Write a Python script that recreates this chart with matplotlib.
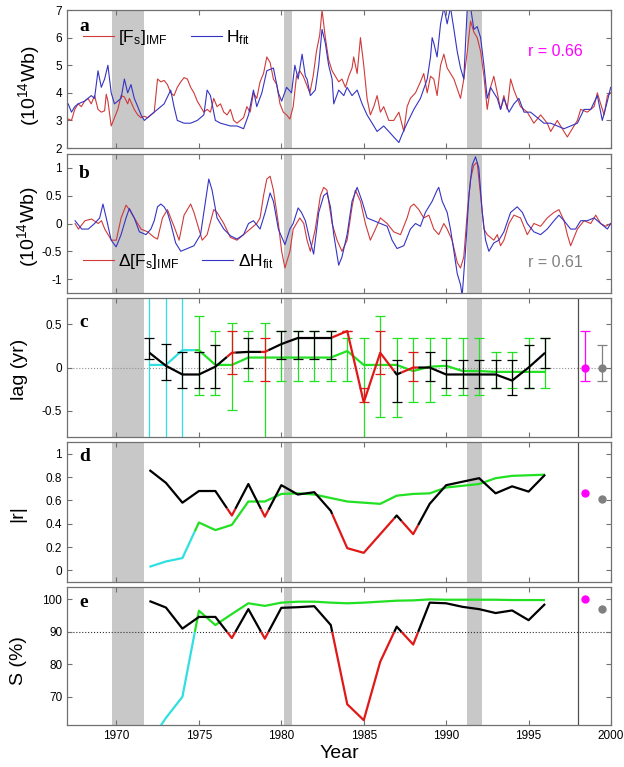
import numpy as np
import matplotlib
matplotlib.use("Agg")
import matplotlib.pyplot as plt
from matplotlib.ticker import MultipleLocator, FuncFormatter

plt.rcParams['font.family'] = 'Liberation Sans'
plt.rcParams['mathtext.fontset'] = 'custom'
plt.rcParams['mathtext.rm'] = 'Liberation Sans'
plt.rcParams['mathtext.it'] = 'Liberation Sans:italic'
plt.rcParams['axes.unicode_minus'] = False

# ---- panel a: open flux series (10^14 Wb) ----
t_fs = [1967.07, 1967.27, 1967.47, 1967.67, 1967.87, 1968.07, 1968.27, 1968.47, 1968.67, 1968.88,
        1969.08, 1969.28, 1969.38, 1969.48, 1969.68, 1969.88, 1970.08, 1970.28, 1970.48, 1970.68,
        1970.78, 1971.08, 1971.29, 1971.49, 1971.69, 1971.89, 1972.09, 1972.29, 1972.49, 1972.69,
        1972.89, 1973.09, 1973.29, 1973.49, 1973.69, 1973.90, 1974.10, 1974.30, 1974.50, 1974.70,
        1974.90, 1975.10, 1975.30, 1975.50, 1975.70, 1975.90, 1976.10, 1976.31, 1976.51, 1976.71,
        1976.91, 1977.11, 1977.31, 1977.51, 1977.71, 1977.91, 1978.11, 1978.31, 1978.51, 1978.71,
        1978.92, 1979.12, 1979.32, 1979.52, 1979.72, 1979.92, 1980.12, 1980.32, 1980.52, 1980.72,
        1980.92, 1981.12, 1981.33, 1981.53, 1981.73, 1981.93, 1982.13, 1982.33, 1982.47, 1982.67,
        1982.87, 1983.08, 1983.28, 1983.48, 1983.68, 1983.89, 1984.09, 1984.29, 1984.39, 1984.60,
        1984.80, 1985.00, 1985.20, 1985.40, 1985.61, 1985.81, 1986.01, 1986.21, 1986.52, 1986.82,
        1987.13, 1987.43, 1987.63, 1987.83, 1988.14, 1988.44, 1988.64, 1988.85, 1989.05, 1989.25,
        1989.45, 1989.66, 1989.86, 1990.06, 1990.47, 1990.87, 1991.07, 1991.28, 1991.48, 1991.68,
        1991.88, 1992.09, 1992.29, 1992.49, 1992.69, 1992.89, 1993.10, 1993.30, 1993.50, 1993.70,
        1993.91, 1994.11, 1994.31, 1994.51, 1994.92, 1995.32, 1995.73, 1996.13, 1996.34, 1996.74,
        1996.94, 1997.35, 1997.55, 1997.96, 1998.16, 1998.56, 1998.97, 1999.17, 1999.37, 1999.58,
        1999.78, 1999.98]
fs_imf = [3.05, 3.0, 3.4, 3.6, 3.5, 3.7, 3.8, 3.6, 3.9, 3.4,
          3.3, 3.35, 3.95, 3.7, 2.8, 3.1, 3.4, 3.9, 3.85, 3.6,
          3.8, 3.4, 3.2, 3.1, 3.15, 3.1, 3.2, 3.3, 4.5, 4.4,
          4.45, 4.3, 4.0, 3.9, 4.2, 4.4, 4.55, 4.5, 4.2, 4.0,
          3.7, 3.5, 3.3, 3.4, 3.3, 3.8, 3.5, 3.6, 3.3, 3.2,
          3.4, 3.0, 2.9, 3.0, 3.1, 3.5, 3.3, 4.0, 3.8, 4.4,
          4.7, 5.3, 5.1, 4.5, 4.3, 3.6, 3.3, 3.2, 3.05, 3.5,
          4.6, 4.8, 4.6, 4.3, 4.0, 4.6, 5.5, 6.1, 7.0, 6.0,
          5.2, 4.8, 4.6, 4.4, 4.5, 4.2, 4.6, 4.9, 5.3, 4.7,
          6.0, 5.0, 3.8, 3.2, 3.5, 3.9, 3.3, 3.5, 3.0, 3.0,
          3.3, 2.6, 3.5, 3.8, 4.0, 4.4, 4.7, 4.0, 4.6, 4.5,
          3.9, 5.0, 5.4, 4.9, 4.5, 3.8, 4.5, 5.5, 6.6, 6.2,
          6.0, 5.5, 4.6, 3.4, 4.2, 4.6, 4.0, 3.4, 3.9, 3.4,
          4.5, 4.1, 3.8, 3.5, 3.3, 2.9, 3.2, 2.9, 2.6, 3.0,
          2.8, 2.4, 2.6, 3.0, 3.4, 3.3, 3.5, 4.0, 3.6, 3.2,
          3.9, 4.0]

t_h = [1967.07, 1967.27, 1967.47, 1967.67, 1968.07, 1968.47, 1968.67, 1968.88, 1969.08, 1969.28,
       1969.48, 1969.68, 1969.88, 1970.28, 1970.48, 1970.68, 1970.88, 1971.08, 1971.29, 1971.49,
       1971.69, 1972.09, 1972.49, 1972.89, 1973.29, 1973.49, 1973.69, 1974.10, 1974.50, 1974.90,
       1975.30, 1975.50, 1975.70, 1976.00, 1976.31, 1976.91, 1977.31, 1977.71, 1978.01, 1978.31,
       1978.51, 1978.82, 1979.12, 1979.52, 1979.82, 1980.02, 1980.32, 1980.62, 1980.82, 1981.02,
       1981.26, 1981.46, 1981.56, 1981.76, 1982.06, 1982.27, 1982.47, 1982.67, 1982.87, 1983.08,
       1983.18, 1983.48, 1983.79, 1983.99, 1984.29, 1984.60, 1984.90, 1985.20, 1985.51, 1985.81,
       1986.21, 1986.52, 1986.82, 1987.13, 1987.33, 1987.63, 1988.04, 1988.44, 1988.85, 1989.05,
       1989.15, 1989.25, 1989.45, 1989.66, 1989.86, 1990.06, 1990.26, 1990.47, 1990.67, 1990.87,
       1991.07, 1991.28, 1991.48, 1991.68, 1991.88, 1992.09, 1992.29, 1992.49, 1992.69, 1992.89,
       1993.10, 1993.30, 1993.50, 1993.81, 1994.11, 1994.41, 1994.72, 1995.12, 1995.53, 1995.93,
       1996.34, 1996.74, 1997.15, 1997.55, 1997.96, 1998.36, 1998.77, 1999.17, 1999.47, 1999.78,
       1999.98]
h_fit = [3.6, 3.3, 3.5, 3.6, 3.7, 3.9, 3.8, 4.8, 4.2, 4.5,
         5.0, 4.0, 3.6, 3.8, 4.5, 4.0, 4.3, 3.8, 3.5, 3.2,
         3.0, 3.2, 3.4, 3.6, 4.1, 3.5, 3.0, 2.9, 2.9, 3.0,
         3.2, 4.1, 3.9, 3.0, 2.9, 2.8, 2.8, 2.7, 3.2, 4.1,
         3.5, 4.0, 4.8, 4.9, 4.0, 3.7, 4.2, 4.0, 5.0, 4.5,
         5.4, 4.6, 4.5, 3.9, 4.1, 5.0, 6.3, 5.8, 5.0, 4.5,
         3.6, 4.1, 3.9, 4.2, 3.9, 4.1, 3.6, 3.2, 2.9, 2.6,
         2.8, 2.6, 2.4, 2.2, 2.5, 2.9, 3.4, 3.8, 4.5, 5.3,
         6.0, 5.8, 5.3, 6.5, 7.1, 6.5, 7.1, 6.3, 5.5, 4.9,
         4.5, 7.1, 7.1, 6.3, 6.4, 6.0, 5.0, 3.8, 4.2, 4.0,
         3.8, 3.4, 3.8, 3.3, 3.6, 3.8, 3.3, 3.3, 3.1, 2.9,
         2.9, 2.8, 2.7, 2.8, 2.9, 3.4, 3.4, 3.9, 3.0, 3.7,
         4.2]

# ---- panel b: detrended series ----
t_dfs = [1967.49, 1967.69, 1968.09, 1968.49, 1968.89, 1969.09, 1969.29, 1969.49, 1969.69, 1969.99,
         1970.28, 1970.58, 1970.78, 1971.08, 1971.49, 1971.89, 1972.29, 1972.49, 1972.79, 1973.09,
         1973.29, 1973.49, 1973.80, 1974.10, 1974.50, 1974.70, 1975.00, 1975.20, 1975.50, 1975.90,
         1976.10, 1976.51, 1976.91, 1977.31, 1977.71, 1978.11, 1978.51, 1978.71, 1978.92, 1979.12,
         1979.32, 1979.52, 1979.82, 1980.02, 1980.22, 1980.52, 1980.72, 1981.12, 1981.36, 1981.56,
         1981.76, 1982.06, 1982.37, 1982.57, 1982.77, 1983.08, 1983.38, 1983.68, 1983.99, 1984.29,
         1984.49, 1984.80, 1985.10, 1985.40, 1985.71, 1986.01, 1986.42, 1986.82, 1987.23, 1987.63,
         1987.83, 1988.04, 1988.34, 1988.64, 1988.95, 1989.25, 1989.55, 1989.86, 1990.06, 1990.36,
         1990.67, 1990.87, 1991.07, 1991.28, 1991.48, 1991.68, 1991.88, 1992.09, 1992.29, 1992.49,
         1992.89, 1993.10, 1993.30, 1993.50, 1993.81, 1994.11, 1994.51, 1994.92, 1995.32, 1995.73,
         1996.13, 1996.54, 1996.84, 1997.15, 1997.35, 1997.55, 1997.96, 1998.36, 1998.77, 1999.07,
         1999.37, 1999.68, 1999.98]
d_fs_imf = [0.0, -0.1, 0.05, 0.08, 0.0, 0.05, -0.1, -0.2, -0.3, -0.3,
            0.1, 0.33, 0.25, 0.1, -0.1, -0.15, -0.25, -0.28, 0.1, 0.25,
            0.1, -0.05, -0.3, 0.15, 0.35, 0.2, -0.1, -0.3, -0.2, 0.25,
            0.2, 0.0, -0.25, -0.3, -0.2, -0.1, 0.0, 0.1, 0.5, 0.8,
            0.85, 0.6, 0.0, -0.5, -0.8, -0.5, -0.1, 0.1, 0.0, -0.3,
            -0.5, -0.1, 0.5, 0.65, 0.6, 0.0, -0.3, -0.5, -0.3, 0.3,
            0.6, 0.4, 0.0, -0.3, -0.1, 0.1, 0.0, -0.15, -0.2, 0.1,
            0.3, 0.35, 0.25, 0.1, 0.15, -0.1, -0.2, 0.0, -0.1, -0.3,
            -0.7, -0.8, -0.6, 0.2, 0.8, 1.05, 1.1, 0.5, -0.1, -0.2,
            -0.3, -0.2, -0.4, -0.3, 0.0, 0.15, 0.1, -0.2, 0.0, -0.05,
            0.1, 0.2, 0.25, 0.05, -0.2, -0.4, -0.1, 0.05, 0.0, 0.15,
            0.0, -0.05, 0.0]

t_dh = [1967.49, 1967.89, 1968.29, 1968.67, 1968.98, 1969.18, 1969.38, 1969.68, 1969.98, 1970.28,
        1970.58, 1970.78, 1971.08, 1971.39, 1971.79, 1972.09, 1972.29, 1972.49, 1972.69, 1972.89,
        1973.09, 1973.29, 1973.59, 1973.90, 1974.30, 1974.70, 1975.10, 1975.40, 1975.60, 1975.80,
        1976.10, 1976.51, 1976.91, 1977.31, 1977.71, 1978.01, 1978.31, 1978.71, 1979.02, 1979.32,
        1979.52, 1979.82, 1980.22, 1980.52, 1980.72, 1981.02, 1981.22, 1981.46, 1981.73, 1981.96,
        1982.27, 1982.57, 1982.77, 1982.98, 1983.18, 1983.48, 1983.68, 1983.99, 1984.29, 1984.60,
        1984.90, 1985.20, 1985.61, 1986.01, 1986.42, 1986.72, 1987.02, 1987.43, 1987.83, 1988.14,
        1988.44, 1988.74, 1989.15, 1989.45, 1989.55, 1989.76, 1990.06, 1990.26, 1990.47, 1990.67,
        1990.87, 1990.97, 1991.17, 1991.38, 1991.58, 1991.78, 1991.98, 1992.19, 1992.39, 1992.59,
        1992.89, 1993.20, 1993.50, 1993.91, 1994.31, 1994.62, 1994.92, 1995.32, 1995.73, 1996.13,
        1996.54, 1996.84, 1997.15, 1997.55, 1997.85, 1998.16, 1998.56, 1998.97, 1999.37, 1999.78,
        1999.98]
d_h_fit = [0.05, -0.1, -0.1, 0.0, 0.1, 0.35, 0.1, -0.3, -0.42, -0.2,
           0.1, 0.27, 0.1, -0.15, -0.2, -0.1, 0.05, 0.3, 0.35, 0.3,
           0.2, 0.0, -0.35, -0.5, -0.45, -0.4, -0.2, 0.4, 0.8, 0.6,
           0.1, -0.1, -0.22, -0.28, -0.2, 0.0, 0.05, -0.1, 0.2, 0.55,
           0.4, -0.1, -0.38, -0.1, 0.0, 0.28, 0.2, 0.05, -0.3, -0.55,
           0.2, 0.5, 0.55, 0.3, -0.2, -0.75, -0.6, -0.2, 0.4, 0.65,
           0.4, 0.1, 0.05, 0.0, -0.05, -0.3, -0.45, -0.4, -0.1, 0.0,
           -0.05, 0.2, 0.4, 0.6, 0.65, 0.4, 0.2, -0.1, -0.5, -0.9,
           -1.1, -1.3, -0.5, 0.5, 1.05, 1.2, 1.0, 0.2, -0.3, -0.5,
           -0.35, -0.3, -0.15, 0.2, 0.3, 0.2, 0.0, -0.15, -0.2, -0.1,
           0.05, 0.15, 0.05, -0.1, -0.1, 0.05, 0.05, 0.1, 0.0, -0.1,
           0.0]

# ---- panels c-e: yearly lag, correlation and significance ----
years = np.arange(1972, 1997)
lag_h = [0.17, 0.02, -0.08, -0.08, 0.01, 0.17, 0.18, 0.18, 0.27, 0.34, 0.34, 0.34, 0.42,
         -0.40, 0.17, -0.08, 0.0, 0.0, -0.08, -0.08, -0.08, -0.08, -0.15, 0.0, 0.17]
lag_h_hi = [0.34, 0.27, 0.18, 0.18, 0.26, 0.42, 0.34, 0.34, 0.42, 0.42, 0.42, 0.42, 0.42,
            -0.24, 0.42, 0.09, 0.18, 0.18, 0.09, 0.09, 0.09, 0.09, 0.09, 0.26, 0.34]
lag_h_lo = [0.10, -0.14, -0.24, -0.24, -0.24, -0.08, 0.0, -0.15, 0.10, 0.10, 0.10, 0.10, 0.42,
            -0.40, -0.08, -0.40, -0.15, -0.15, -0.24, -0.24, -0.24, -0.24, -0.32, -0.24, 0.0]
lag_g = [0.03, 0.03, 0.2, 0.2, 0.03, 0.03, 0.115, 0.115, 0.115, 0.115, 0.115, 0.115, 0.19,
         0.03, 0.03, 0.03, -0.04, 0.01, 0.02, -0.04, -0.04, -0.05, -0.05, -0.05, -0.05]
lag_g_hi = [1.5, 1.5, 1.5, 0.59, 0.42, 0.51, 0.42, 0.51, 0.42, 0.42, 0.42, 0.42, 0.34,
            0.34, 0.59, 0.34, 0.34, 0.34, 0.34, 0.34, 0.34, 0.18, 0.18, 0.34, 0.34]
lag_g_lo = [-1.5, -1.5, -1.5, -0.32, -0.32, -0.49, -0.15, -1.0, -0.15, -0.15, -0.15, -0.15, -0.15,
            -1.0, -0.57, -0.57, -0.40, -0.40, -0.32, -0.32, -0.32, -0.24, -0.24, -0.24, -0.24]

r_h = [0.86, 0.75, 0.58, 0.68, 0.68, 0.47, 0.74, 0.46, 0.73, 0.65, 0.67, 0.51, 0.19,
       0.15, 0.31, 0.47, 0.31, 0.57, 0.73, 0.76, 0.79, 0.66, 0.72, 0.675, 0.82]
r_g = [0.03, 0.076, 0.105, 0.41, 0.345, 0.39, 0.59, 0.59, 0.655, 0.66, 0.65, 0.62, 0.59,
       0.58, 0.57, 0.64, 0.655, 0.66, 0.71, 0.725, 0.74, 0.79, 0.81, 0.815, 0.82]

sig_h = [99.5, 97.5, 91.0, 94.6, 94.6, 88.1, 97.0, 87.9, 97.4, 97.6, 97.9, 92.1, 67.7,
         62.8, 80.8, 91.6, 86.1, 99.0, 98.8, 97.7, 97.0, 95.8, 96.6, 93.6, 98.6]
sig_g = [56.0, 63.5, 70.0, 96.5, 92.1, 95.5, 98.8, 98.0, 99.0, 99.3, 99.3, 99.0, 98.8,
         99.0, 99.3, 99.6, 99.7, 100.0, 99.9, 99.9, 99.9, 99.9, 99.8, 99.8, 99.8]

# whole-interval values (full series, detrended series)
t_all = [1998.45, 1999.45]
lag_all = [0.0, 0.0]
lag_all_hi = [0.42, 0.26]
lag_all_lo = [-0.15, -0.15]
r_all = [0.66, 0.61]
sig_all = [100.0, 97.0]
all_colors = ['#ff00ff', '#808080']

sig_level = 90
gray_bands = [(1969.72, 1971.65), (1980.16, 1980.66), (1991.28, 1992.19)]

GREEN = '#22e022'
CYAN = '#30e0e0'
RED = '#e01818'
SPINE = '#707070'


def split_line(ax, x, y, s, c_ok, c_bad, lw=1.6, zorder=3):
    # colour switches where the significance curve crosses sig_level
    x = np.asarray(x, float)
    y = np.asarray(y, float)
    s = np.asarray(s, float)
    bad = s < sig_level
    xs, ys = [x[0]], [y[0]]
    cur = bad[0]
    for i in range(len(x) - 1):
        if bad[i + 1] != cur:
            f = (sig_level - s[i]) / (s[i + 1] - s[i])
            xm = x[i] + f * (x[i + 1] - x[i])
            ym = y[i] + f * (y[i + 1] - y[i])
            xs.append(xm)
            ys.append(ym)
            ax.plot(xs, ys, color=c_bad if cur else c_ok, lw=lw,
                    solid_capstyle='butt', zorder=zorder)
            xs, ys = [xm], [ym]
            cur = bad[i + 1]
        xs.append(x[i + 1])
        ys.append(y[i + 1])
    ax.plot(xs, ys, color=c_bad if cur else c_ok, lw=lw,
            solid_capstyle='butt', zorder=zorder)


def split_errorbars(ax, x, y, lo, hi, s, c_ok, c_bad, zorder=2):
    x = np.asarray(x, float)
    y = np.asarray(y, float)
    lo = np.asarray(lo, float)
    hi = np.asarray(hi, float)
    bad = np.asarray(s, float) < sig_level
    for mask, c in [(~bad, c_ok), (bad, c_bad)]:
        if mask.any():
            ax.errorbar(x[mask], y[mask], yerr=[y[mask] - lo[mask], hi[mask] - y[mask]],
                        fmt='none', ecolor=c, elinewidth=0.9, capsize=3.5,
                        capthick=0.9, zorder=zorder)


def fmt_g(v, pos):
    return '%g' % v


fig = plt.figure(figsize=(6.24, 7.67), dpi=100)
left, width = 0.1074, 0.8718
rows = [(0.8070, 0.1799), (0.6180, 0.1812), (0.4302, 0.1812), (0.2412, 0.1825), (0.0547, 0.1799)]
axes = [fig.add_axes([left, b, width, h]) for b, h in rows]
ax_a, ax_b, ax_c, ax_d, ax_e = axes

for ax in axes:
    ax.set_xlim(1967, 2000)
    ax.xaxis.set_major_locator(MultipleLocator(5))
    for a0, a1 in gray_bands:
        ax.axvspan(a0, a1, color='#c8c8c8', lw=0, zorder=0)
    ax.tick_params(direction='in', top=True, right=True, length=3.5, width=0.8,
                   color=SPINE, labelsize=8.5, pad=3.5, labelbottom=False)
    for s in ax.spines.values():
        s.set_color(SPINE)
        s.set_linewidth(0.9)
    ax.yaxis.set_major_formatter(FuncFormatter(fmt_g))
ax_e.tick_params(labelbottom=True)

# a: full series
l1, = ax_a.plot(t_fs, fs_imf, color='#d03a3a', lw=0.8)
l2, = ax_a.plot(t_h, h_fit, color='#3434c4', lw=0.8)
ax_a.set_ylim(2, 7)
ax_a.set_yticks(range(2, 8))
ax_a.legend([l1, l2], ['[F$_{\\mathrm{s}}$]$_{\\mathrm{IMF}}$', 'H$_{\\mathrm{fit}}$'],
            loc='center left', bbox_to_anchor=(0.029, 0.80), ncol=2, frameon=False,
            fontsize=12.5, handlelength=1.8, handletextpad=0.25, columnspacing=1.3,
            borderpad=0, borderaxespad=0)
ax_a.text(0.847, 0.696, 'r = 0.66', color='#ff00ff', fontsize=11.5,
          transform=ax_a.transAxes, va='center')

# b: detrended series
l3, = ax_b.plot(t_dfs, d_fs_imf, color='#d03a3a', lw=0.8)
l4, = ax_b.plot(t_dh, d_h_fit, color='#3434c4', lw=0.8)
ax_b.set_ylim(-1.25, 1.25)
ax_b.set_yticks([-1, -0.5, 0, 0.5, 1])
ax_b.legend([l3, l4], ['\u0394[F$_{\\mathrm{s}}$]$_{\\mathrm{IMF}}$', '\u0394H$_{\\mathrm{fit}}$'],
            loc='center left', bbox_to_anchor=(0.029, 0.225), ncol=2, frameon=False,
            fontsize=12.5, handlelength=1.8, handletextpad=0.25, columnspacing=1.3,
            borderpad=0, borderaxespad=0)
ax_b.text(0.847, 0.218, 'r = 0.61', color='#808080', fontsize=11.5,
          transform=ax_b.transAxes, va='center')

# c: lag
ax_c.axhline(0, color='#909090', lw=0.8, ls=':', zorder=1)
split_errorbars(ax_c, years, lag_g, lag_g_lo, lag_g_hi, sig_g, GREEN, CYAN, zorder=2)
split_line(ax_c, years, lag_g, sig_g, GREEN, CYAN, zorder=3)
split_errorbars(ax_c, years, lag_h, lag_h_lo, lag_h_hi, sig_h, 'black', RED, zorder=4)
split_line(ax_c, years, lag_h, sig_h, 'black', RED, zorder=5)
for x, y, lo, hi, c in zip(t_all, lag_all, lag_all_lo, lag_all_hi, all_colors):
    ax_c.errorbar([x], [y], yerr=[[y - lo], [hi - y]], fmt='o', color=c, ms=5,
                  elinewidth=0.9, capsize=3.5, capthick=0.9, zorder=5)
ax_c.set_ylim(-0.8, 0.8)
ax_c.set_yticks([-0.5, 0, 0.5])

# d: correlation
split_line(ax_d, years, r_g, sig_g, GREEN, CYAN, zorder=3)
split_line(ax_d, years, r_h, sig_h, 'black', RED, zorder=4)
for x, y, c in zip(t_all, r_all, all_colors):
    ax_d.plot(x, y, 'o', color=c, ms=5, zorder=5)
ax_d.set_ylim(-0.1, 1.1)
ax_d.set_yticks([0, 0.2, 0.4, 0.6, 0.8, 1])

# e: significance
ax_e.axhline(sig_level, color='#303030', lw=0.8, ls=':', zorder=1)
split_line(ax_e, years, sig_g, sig_g, GREEN, CYAN, zorder=3)
split_line(ax_e, years, sig_h, sig_h, 'black', RED, zorder=4)
for x, y, c in zip(t_all, sig_all, all_colors):
    ax_e.plot(x, y, 'o', color=c, ms=5, zorder=5)
ax_e.set_ylim(61.3, 103.8)
ax_e.set_yticks([70, 80, 90, 100])

for ax in (ax_c, ax_d, ax_e):
    ax.axvline(1998, color='#505050', lw=0.9, zorder=1)

# axis labels and panel letters
labels = ['(10$^{\\mathrm{14}}$Wb)', '(10$^{\\mathrm{14}}$Wb)', 'lag (yr)', '|r|', 'S (%)']
label_x = [-0.046, -0.048, -0.072, -0.075, -0.074]
label_y = [0.455, 0.48, 0.49, 0.49, 0.47]
letters = ['a', 'b', 'c', 'd', 'e']
letter_y = [0.85, 0.827, 0.79, 0.864, 0.855]
for ax, lab, lx, ly, let, ty in zip(axes, labels, label_x, label_y, letters, letter_y):
    ax.set_ylabel(lab, fontsize=14)
    ax.yaxis.set_label_coords(lx, ly)
    ax.text(0.022, ty, let, transform=ax.transAxes, fontsize=14, fontweight='bold',
            family='Liberation Serif', va='baseline')

ax_e.set_xlabel('Year', fontsize=14)
ax_e.xaxis.set_label_coords(0.5, -0.142)

fig.savefig('out.png', dpi=100)
